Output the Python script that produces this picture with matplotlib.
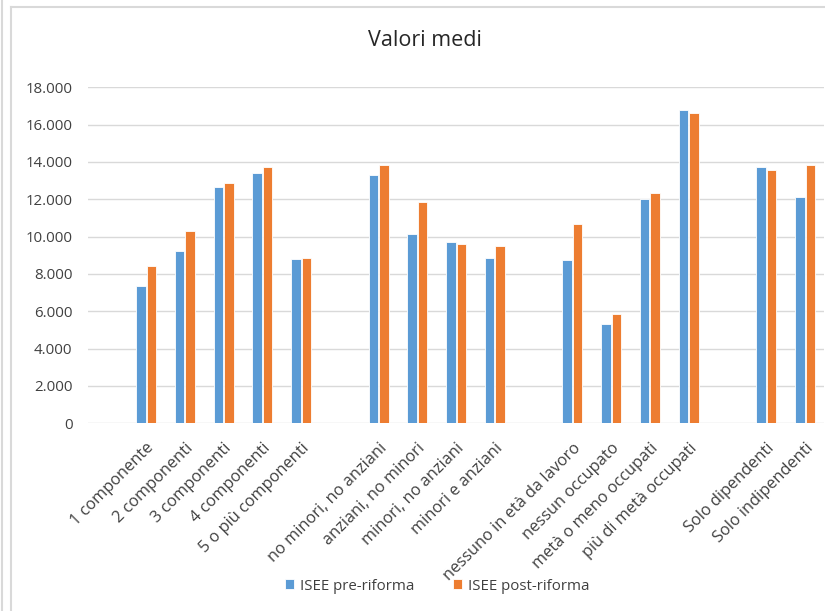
import matplotlib
matplotlib.use("Agg")
import matplotlib.pyplot as plt
from matplotlib.lines import Line2D
from matplotlib.ticker import FuncFormatter
import numpy as np

# ============================================================
# Dati (empty strings = gap categories as in the Excel chart)
# ============================================================

categorie = [
    "",
    "1 componente", "2 componenti", "3 componenti", "4 componenti", "5 o più componenti",
    "",
    "no minori, no anziani", "anziani, no minori", "minori, no anziani", "minori e anziani",
    "",
    "nessuno in età da lavoro", "nessun occupato", "metà o meno occupati", "più di metà occupati",
    "",
    "Solo dipendenti", "Solo indipendenti",
]

isee_pre = [
    np.nan,
    7360, 9230, 12680, 13390, 8820,
    np.nan,
    13300, 10140, 9700, 8860,
    np.nan,
    8750, 5300, 12000, 16790,
    np.nan,
    13710, 12110,
]

isee_post = [
    np.nan,
    8450, 10300, 12870, 13710, 8860,
    np.nan,
    13820, 11860, 9610, 9480,
    np.nan,
    10660, 5860, 12320, 16640,
    np.nan,
    13570, 13860,
]

serie_nomi = ["ISEE pre-riforma", "ISEE post-riforma"]
colori = ["#5B9BD5", "#ED7D31"]

plt.rcParams["font.family"] = ["Open Sans", "DejaVu Sans"]


def fmt_it(v, pos):
    return f"{int(v):,}".replace(",", ".")


fig = plt.figure(figsize=(8.25, 6.11), dpi=100)
ax = fig.add_axes([87.9 / 825, 1 - 423.3 / 611, (824.4 - 87.9) / 825, (423.3 - 87.3) / 611])

x = np.arange(len(categorie))
w = 0.245
off = 0.135

b1 = ax.bar(x - off, isee_pre, width=w, color=colori[0], edgecolor="white",
            linewidth=0.6, label=serie_nomi[0], zorder=3)
b2 = ax.bar(x + off, isee_post, width=w, color=colori[1], edgecolor="white",
            linewidth=0.6, label=serie_nomi[1], zorder=3)

ax.set_xlim(-0.5, len(categorie) - 0.5)
ax.set_ylim(0, 18000)
ax.set_yticks(np.arange(0, 18001, 2000))
ax.yaxis.set_major_formatter(FuncFormatter(fmt_it))
ax.grid(axis="y", color="#d9d9d9", linewidth=1.0, zorder=0)
for s in ax.spines.values():
    s.set_visible(False)
ax.tick_params(axis="both", length=0, labelsize=10.8, colors="#404040")
ax.tick_params(axis="y", pad=11)
ax.tick_params(axis="x", pad=12)

ax.set_xticks(x)
ax.set_xticklabels(categorie, rotation=45, ha="right", rotation_mode="anchor",
                   color="#404040", fontsize=11.8)

fig.text(424.5 / 825, 1 - 40 / 611, "Valori medi", ha="center", va="center",
         fontsize=15.5, color="#262626")

ax.legend(handles=[b1, b2], loc="center", bbox_to_anchor=(437 / 825, 1 - 586 / 611),
          bbox_transform=fig.transFigure, ncol=2, frameon=False, fontsize=10.8,
          handlelength=0.6, handleheight=0.6, handletextpad=0.4, columnspacing=2.6,
          labelcolor="#404040")

# chart border lines (Excel chart area frame)
gray = "#d9d9d9"
fig.add_artist(Line2D([1.8 / 825, 1.8 / 825], [0, 1], color=gray, linewidth=1.5))
fig.add_artist(Line2D([11 / 825, 11 / 825], [0, 1 - 6.5 / 611], color=gray, linewidth=1.5))
fig.add_artist(Line2D([11 / 825, 1], [1 - 6.5 / 611, 1 - 6.5 / 611], color=gray, linewidth=1.5))

fig.savefig("out.png", dpi=100)
